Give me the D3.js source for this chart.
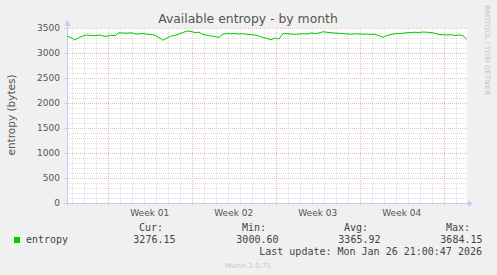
<!DOCTYPE html>
<html lang="en">
<head>
<meta charset="utf-8" />
<script src="https://d3js.org/d3.v7.min.js"></script>
<title>Available entropy - by month</title>
<style>
  body { margin: 0; background: #f0f0f0; }
  svg { display: block; }
  text { font-family: "DejaVu Sans", sans-serif; }
  .mono { font-family: "DejaVu Sans Mono", monospace; font-size: 10px; fill: #444; }
</style>
</head>
<body>
<div id="chart"></div>
<script>
// samples every 8 hours, starting Dec 24 2025 14:30 UTC
const startTime = Date.UTC(2025, 11, 24, 14, 30);
const stepHours = 8;
const entropy = [
  3340, 3310, 3260, 3310, 3340, 3360, 3350, 3345, 3360, 3340,
  3335, 3355, 3345, 3405, 3400, 3395, 3405, 3385, 3380, 3390,
  3375, 3370, 3355, 3310, 3255, 3300, 3340, 3350, 3380, 3410,
  3440, 3430, 3410, 3415, 3370, 3355, 3340, 3330, 3310, 3380,
  3390, 3385, 3390, 3380, 3385, 3375, 3365, 3360, 3340, 3310,
  3290, 3265, 3300, 3280, 3390, 3385, 3380, 3375, 3380, 3385,
  3380, 3400, 3390, 3400, 3425, 3415, 3405, 3400, 3395, 3390,
  3380, 3375, 3385, 3380, 3375, 3380, 3370, 3375, 3345, 3315,
  3350, 3370, 3385, 3390, 3395, 3405, 3410, 3415, 3410, 3420,
  3415, 3410, 3395, 3370, 3365, 3360, 3365, 3350, 3360, 3345,
  3275
];
const yTicks = [0, 500, 1000, 1500, 2000, 2500, 3000, 3500];
const weekStarts = ["2025-12-28", "2026-01-04", "2026-01-11", "2026-01-18", "2026-01-25"];
const weekLabels = ["Week 01", "Week 02", "Week 03", "Week 04"];
const statNames = ["Cur:", "Min:", "Avg:", "Max:"];
const statValues = ["3276.15", "3000.60", "3365.92", "3684.15"];
const seriesName = "entropy";
const lastUpdate = "Last update: Mon Jan 26 21:00:47 2026";

const W = 497, H = 275;
const pLeft = 67, pRight = 467, pTop = 28, pBottom = 203;

const data = entropy.map((v, i) => ({ t: new Date(startTime + i * stepHours * 3600e3), v }));

const x = d3.scaleUtc()
  .domain([data[0].t, data[data.length - 1].t])
  .range([pLeft, pRight]);
const y = d3.scaleLinear().domain([0, 3500]).range([pBottom, pTop]);

const svg = d3.select('#chart').append('svg')
  .attr('width', W).attr('height', H);

svg.append('rect').attr('width', W).attr('height', H).attr('fill', '#f0f0f0');
svg.append('rect')
  .attr('x', pLeft).attr('y', pTop)
  .attr('width', pRight - pLeft).attr('height', pBottom - pTop)
  .attr('fill', '#ffffff');

const grid = svg.append('g').attr('shape-rendering', 'crispEdges');
const minorCol = '#dedede', majorCol = '#f0b8b8';

// minor grid
const days = d3.utcDay.range(x.domain()[0], x.domain()[1]);
grid.selectAll('.vmin').data(days).enter().append('line')
  .attr('x1', d => Math.round(x(d)) + 0.5).attr('x2', d => Math.round(x(d)) + 0.5)
  .attr('y1', pTop).attr('y2', pBottom)
  .attr('stroke', minorCol).attr('stroke-dasharray', '1,1');
const minorY = d3.range(100, 3600, 100).filter(v => v % 500 !== 0);
grid.selectAll('.hmin').data(minorY).enter().append('line')
  .attr('x1', pLeft).attr('x2', pRight)
  .attr('y1', d => Math.round(y(d)) + 0.5).attr('y2', d => Math.round(y(d)) + 0.5)
  .attr('stroke', minorCol).attr('stroke-dasharray', '1,1');

// major grid
const sundays = weekStarts.map(d => new Date(d + 'T00:00:00Z'));
grid.selectAll('.vmaj').data(sundays).enter().append('line')
  .attr('x1', d => Math.round(x(d)) + 0.5).attr('x2', d => Math.round(x(d)) + 0.5)
  .attr('y1', pTop).attr('y2', pBottom + 3)
  .attr('stroke', majorCol).attr('stroke-dasharray', '1,1');
grid.selectAll('.hmaj').data(yTicks.slice(1)).enter().append('line')
  .attr('x1', pLeft - 3).attr('x2', pRight)
  .attr('y1', d => Math.round(y(d)) + 0.5).attr('y2', d => Math.round(y(d)) + 0.5)
  .attr('stroke', majorCol).attr('stroke-dasharray', '1,1');

// axes
const yAxis = d3.axisLeft(y).tickValues(yTicks).tickFormat(d3.format('d'))
  .tickSize(0).tickPadding(7);
svg.append('g').attr('transform', `translate(${pLeft},0)`).call(yAxis)
  .call(g => g.select('.domain').remove())
  .selectAll('text')
  .attr('fill', '#555').style('font-size', '9px')
  .style('font-family', '"DejaVu Sans", sans-serif');

svg.append('g').selectAll('text').data(weekLabels).enter().append('text')
  .attr('x', (d, i) => x(new Date(+sundays[i] + 3.5 * 864e5)))
  .attr('y', 216)
  .attr('text-anchor', 'middle')
  .attr('fill', '#555').style('font-size', '9px')
  .text(d => d);

const axisCol = '#c8c8f4';
svg.append('line').attr('x1', pLeft - 3).attr('x2', pRight + 2)
  .attr('y1', pBottom + 0.5).attr('y2', pBottom + 0.5)
  .attr('stroke', axisCol).attr('shape-rendering', 'crispEdges');
svg.append('line').attr('x1', pLeft + 0.5).attr('x2', pLeft + 0.5)
  .attr('y1', pBottom + 3).attr('y2', pTop - 3)
  .attr('stroke', axisCol).attr('shape-rendering', 'crispEdges');
svg.append('path').attr('d', `M${pLeft - 2.5},${pTop - 2} L${pLeft + 3.5},${pTop - 2} L${pLeft + 0.5},${pTop - 8} Z`)
  .attr('fill', axisCol);
svg.append('path').attr('d', `M${pRight + 1},${pBottom - 2.5} L${pRight + 1},${pBottom + 3.5} L${pRight + 6},${pBottom + 0.5} Z`)
  .attr('fill', axisCol);

// series
const line = d3.line().x(d => x(d.t)).y(d => y(d.v));
svg.append('path').datum(data)
  .attr('d', line)
  .attr('fill', 'none')
  .attr('stroke', '#00cc00')
  .attr('stroke-width', 1);

// titles
svg.append('text').attr('x', 248).attr('y', 23)
  .attr('text-anchor', 'middle').attr('fill', '#555')
  .style('font-size', '12.4px')
  .text('Available entropy - by month');

svg.append('text')
  .attr('transform', 'translate(15,115) rotate(-90)')
  .attr('text-anchor', 'middle').attr('fill', '#555')
  .style('font-size', '10.5px')
  .text('entropy  (bytes)');

svg.append('text')
  .attr('transform', 'translate(485,5) rotate(90)')
  .attr('fill', '#c4c4c4')
  .style('font-size', '7px')
  .text('RRDTOOL / TOBI OETIKER');

// legend
svg.append('rect').attr('x', 14).attr('y', 237).attr('width', 6).attr('height', 6)
  .attr('fill', '#00cc00');
svg.append('text').attr('class', 'mono').attr('x', 26).attr('y', 243).text(seriesName);

const colRight = [163, 266, 368, 470];
svg.append('g').selectAll('text').data(statNames).enter().append('text')
  .attr('class', 'mono').attr('text-anchor', 'end')
  .attr('x', (d, i) => colRight[i]).attr('y', 231)
  .text(d => d);
svg.append('g').selectAll('text').data(statValues).enter().append('text')
  .attr('class', 'mono').attr('text-anchor', 'end')
  .attr('x', (d, i) => colRight[i] + 12.5).attr('y', 243)
  .text(d => d);
svg.append('text').attr('class', 'mono').attr('text-anchor', 'end')
  .attr('x', 482).attr('y', 255).text(lastUpdate);

svg.append('text').attr('x', 248).attr('y', 268)
  .attr('text-anchor', 'middle').attr('fill', '#c8c8c8')
  .style('font-size', '7px')
  .text('Munin 2.0.75');
</script>
</body>
</html>
